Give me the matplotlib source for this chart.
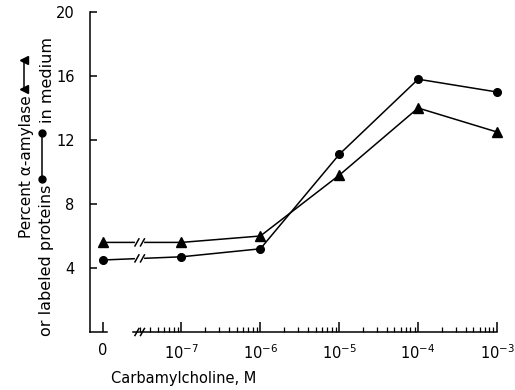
import numpy as np
import matplotlib
matplotlib.use('Agg')
import matplotlib.pyplot as plt
from matplotlib.lines import Line2D

# carbamylcholine concentration (M); 0 is drawn at the 1e-8 position behind an axis break
conc_labels = ['0', '$10^{-7}$', '$10^{-6}$', '$10^{-5}$', '$10^{-4}$', '$10^{-3}$']
log_conc = [-8, -7, -6, -5, -4, -3]
amylase = [5.6, 5.6, 6.0, 9.8, 14.0, 12.5]     # triangles
proteins = [4.5, 4.7, 5.2, 11.1, 15.8, 15.0]   # circles
y_ticks = [4, 8, 12, 16, 20]

plt.rcParams['font.family'] = ['DejaVu Sans']
plt.rcParams['mathtext.fontset'] = 'dejavusans'

W, H = 515, 390
fig = plt.figure(figsize=(W / 100, H / 100), dpi=100)
ax = fig.add_axes([90 / W, 1 - 332 / H, 407 / W, 320 / H])
ax.set_xlim(-8.16, -3.0)
ax.set_ylim(0, 20)

brk = -7.53
lw = 1.1

ax.plot(log_conc, amylase, color='black', lw=lw, marker='^', ms=6.5, zorder=3, clip_on=False)
ax.plot(log_conc, proteins, color='black', lw=lw, marker='o', ms=5.5, zorder=3, clip_on=False)


def slashes(y, half_h, axes_y=False):
    # two short parallel slashes marking a break
    for dx in (-0.035, 0.035):
        xs = [brk + dx - 0.025, brk + dx + 0.025]
        if axes_y:
            ax.plot(xs, [y - half_h, y + half_h], color='black', lw=lw,
                    transform=ax.get_xaxis_transform(), clip_on=False, zorder=5)
        else:
            ax.plot(xs, [y - half_h, y + half_h], color='black', lw=lw, zorder=5)


for series in (amylase, proteins):
    yb = (series[0] + series[1]) / 2
    ax.plot([brk - 0.035, brk + 0.035], [yb, yb], color='white', lw=3, zorder=4)
    slashes(yb, 0.22)

# axes spines
for s in ('top', 'right', 'bottom'):
    ax.spines[s].set_visible(False)
ax.spines['left'].set_linewidth(lw)
xt = ax.get_xaxis_transform()
ax.plot([-8.16, -7.95], [0, 0], color='black', lw=lw, transform=xt, clip_on=False)
ax.plot([-7.62, -3.0], [0, 0], color='black', lw=lw, transform=xt, clip_on=False)
slashes(0.0, 0.011, axes_y=True)

ax.set_yticks(y_ticks)
ax.set_yticklabels([str(v) for v in y_ticks])
ax.tick_params(axis='y', direction='in', length=5, width=lw, labelsize=10.5, pad=11)

ax.set_xticks(log_conc)
ax.set_xticklabels(conc_labels)
minor = []
for d in range(-8, -3):
    ks = range(3, 10) if d == -8 else range(2, 10)
    minor += [d + np.log10(k) for k in ks]
ax.set_xticks(minor, minor=True)
ax.tick_params(axis='x', which='major', direction='in', length=7, width=lw, labelsize=10.5, pad=8)
ax.tick_params(axis='x', which='minor', direction='in', length=3.5, width=0.9)

fig.text(184 / W, 1 - 378 / H, 'Carbamylcholine, M', ha='center', va='center', fontsize=10.5)

# rotated y label with inline marker keys
renderer = fig.canvas.get_renderer()


def vtext(x, ytop_px, s, size):
    t = fig.text(x / W, 1 - ytop_px / H, s, rotation=90, ha='center', va='bottom', fontsize=size)
    bb = t.get_window_extent(renderer)
    return H - bb.y1  # new top in px from top


def key(x, y0, y1, marker, ms):
    fig.add_artist(Line2D([x / W, x / W], [1 - y0 / H, 1 - y1 / H], color='black', lw=lw,
                          marker=marker, ms=ms, transform=fig.transFigure))


top1 = vtext(27, 238, 'Percent α-amylase', 11)
key(24, top1 - 6, top1 - 35, '<', 6)
top2 = vtext(47, 336, 'or labeled proteins', 11.5)
key(42, top2 - 6, top2 - 52, 'o', 5)
vtext(47, top2 - 62, 'in medium', 11.5)

fig.savefig('out.png', dpi=100)
